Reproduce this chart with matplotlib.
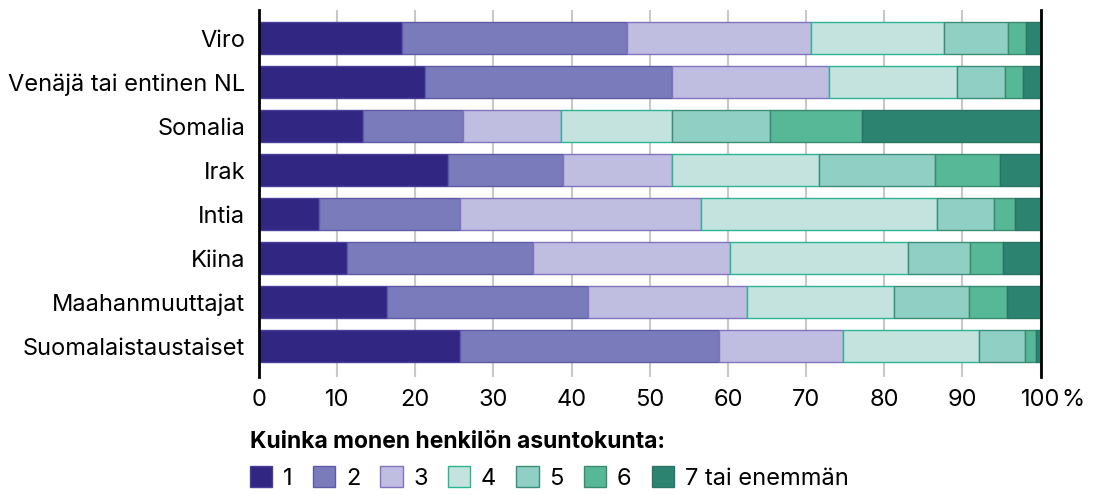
import matplotlib.pyplot as plt
from matplotlib.patches import Patch
import numpy as np

plt.rcParams['font.family'] = ['Inter', 'DejaVu Sans']

# maat / ryhmät ylhäältä alas
maat = ['Viro', 'Venäjä tai entinen NL', 'Somalia', 'Irak', 'Intia', 'Kiina',
        'Maahanmuuttajat', 'Suomalaistaustaiset']
koot = ['1', '2', '3', '4', '5', '6', '7 tai enemmän']

# osuudet (%) asuntokunnan koon mukaan
h1 = [18.3, 21.3, 13.3, 24.2, 7.7, 11.2, 16.4, 25.7]
h2 = [28.8, 31.6, 12.8, 14.7, 18.0, 23.8, 25.7, 33.1]
h3 = [23.5, 20.1, 12.5, 14.0, 30.8, 25.3, 20.3, 15.9]
h4 = [17.1, 16.3, 14.3, 18.7, 30.3, 22.8, 18.9, 17.4]
h5 = [8.2, 6.1, 12.5, 14.9, 7.3, 7.9, 9.6, 5.9]
h6 = [2.2, 2.3, 11.8, 8.3, 2.7, 4.2, 4.8, 1.4]
h7 = [1.9, 2.3, 22.8, 5.2, 3.2, 4.8, 4.3, 0.6]

varit = ['#312783', '#7a7bba', '#bfbde0', '#c4e3de', '#90cfc3', '#56b896', '#2b8370']
reunat = ['#4a3f9a', '#5e5aa8', '#7f74bd', '#2bb592', '#3b8f78', '#3a8a70', '#2a7563']

fig = plt.figure(figsize=(10.94, 4.95), dpi=100)
ax = fig.add_axes([259 / 1094, (495 - 377) / 495, (1040.5 - 259) / 1094, 367 / 495])

y = np.arange(len(maat))[::-1]
vasen = np.zeros(len(maat))
for i, arvot in enumerate([h1, h2, h3, h4, h5, h6, h7]):
    ax.barh(y, arvot, left=vasen, height=0.74, color=varit[i],
            edgecolor=reunat[i], linewidth=1, zorder=3, label=koot[i])
    vasen += np.array(arvot)

ax.set_xlim(0, 100)
ax.set_ylim(-0.70, 7.64)
ax.set_yticks(y)
ax.set_yticklabels(maat, fontsize=17)
ax.set_xticks(range(0, 101, 10))
ax.set_xticklabels([str(v) for v in range(0, 101, 10)], fontsize=17)
ax.tick_params(axis='y', length=0, pad=10)
ax.tick_params(axis='x', length=0, pad=9)
ax.annotate('%', xy=(100, 0), xycoords=('data', 'axes fraction'),
            xytext=(15, -9), textcoords='offset points', fontsize=17,
            ha='left', va='top')

ax.grid(axis='x', color='#c8c8c8', linewidth=1.5, zorder=0)
for s in ['top', 'bottom']:
    ax.spines[s].set_visible(False)
ax.spines['left'].set_linewidth(2)
ax.spines['right'].set_linewidth(2)
ax.spines['left'].set_zorder(5)
ax.spines['right'].set_zorder(5)

fig.text(250 / 1094, 1 - 442 / 495, 'Kuinka monen henkilön asuntokunta:',
         fontsize=16.5, fontweight='bold', ha='left', va='center')

kahvat = [Patch(facecolor=varit[i], edgecolor=reunat[i], linewidth=1) for i in range(7)]
fig.legend(kahvat, koot, loc='center left', bbox_to_anchor=(250 / 1094, 1 - 478 / 495),
           ncol=7, frameon=False, fontsize=17, handlelength=0.95, handleheight=1.0,
           handletextpad=0.45, columnspacing=0.85, borderpad=0, borderaxespad=0)

fig.savefig('out.png', dpi=100)
